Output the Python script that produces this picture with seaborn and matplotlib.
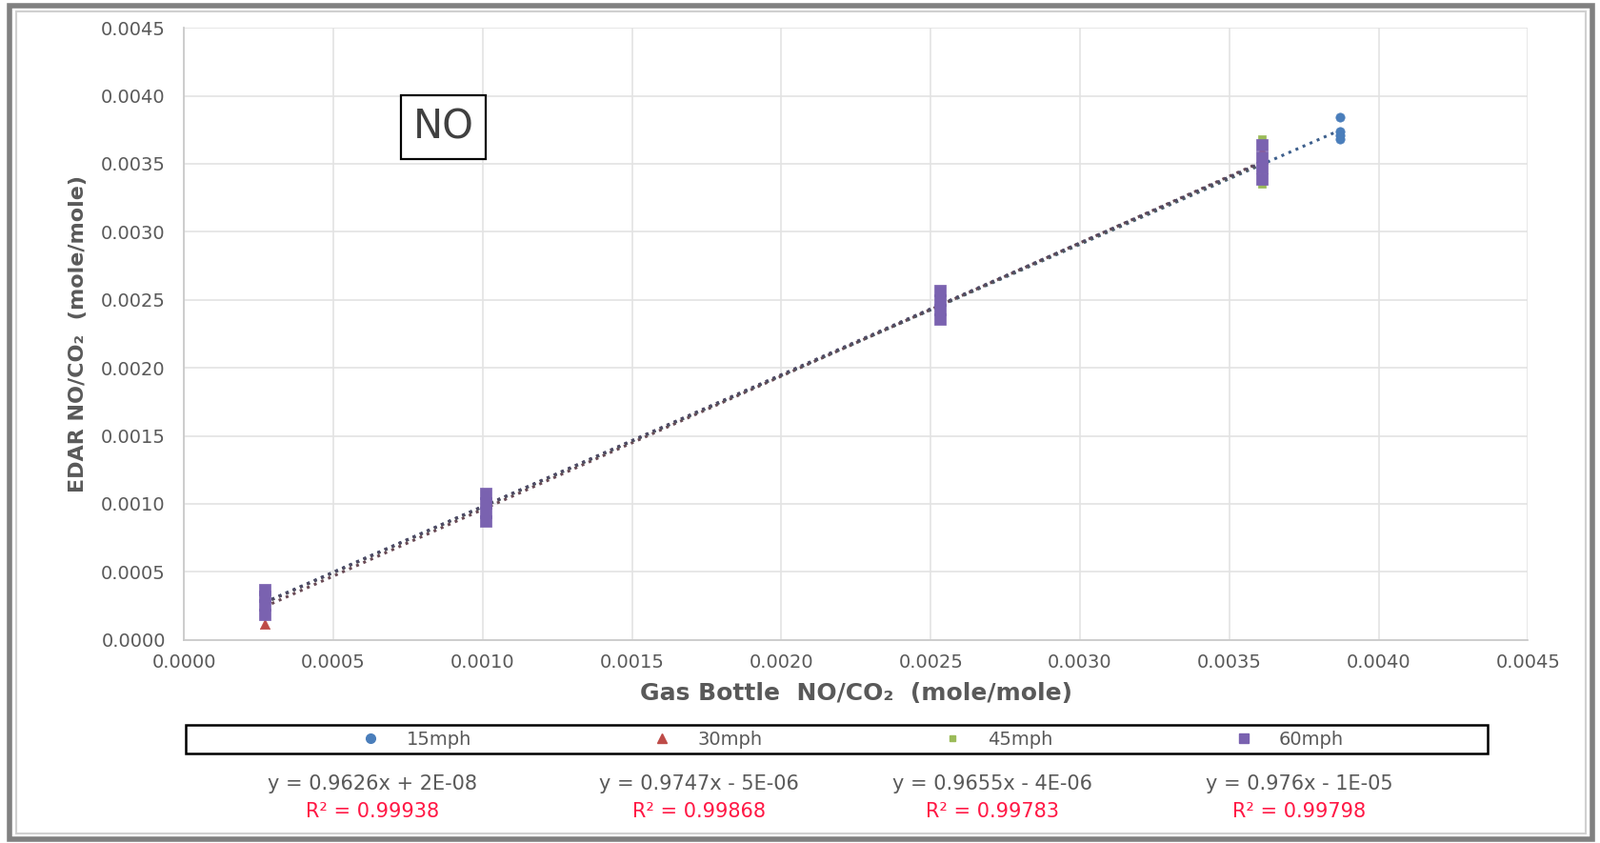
import matplotlib
matplotlib.use("Agg")
import matplotlib.pyplot as plt
import pandas as pd
import seaborn as sns
from matplotlib.patches import Rectangle

# gas bottle values (x) and EDAR readings (y) per speed
x_15 = [0.00027, 0.00027, 0.00101, 0.00101, 0.00253, 0.00253, 0.00361, 0.00361,
        0.00387, 0.00387, 0.00387, 0.00387]
y_15 = [0.00025, 0.00030, 0.00097, 0.00100, 0.00245, 0.00248, 0.00348, 0.00352,
        0.00384, 0.00374, 0.00371, 0.00368]

x_30 = [0.00027, 0.00027, 0.00027, 0.00101, 0.00101, 0.00101,
        0.00253, 0.00253, 0.00253, 0.00361, 0.00361, 0.00361]
y_30 = [0.00012, 0.00024, 0.00031, 0.00094, 0.00099, 0.00103,
        0.00240, 0.00247, 0.00256, 0.00340, 0.00350, 0.00360]

x_45 = [0.00027, 0.00027, 0.00027, 0.00101, 0.00101, 0.00101,
        0.00253, 0.00253, 0.00253, 0.00361, 0.00361, 0.00361]
y_45 = [0.00022, 0.00029, 0.00035, 0.00090, 0.00098, 0.00105,
        0.00238, 0.00244, 0.00250, 0.00335, 0.00352, 0.00368]

x_60 = [0.00027] * 4 + [0.00101] * 4 + [0.00253] * 4 + [0.00361] * 4
y_60 = [0.00019, 0.00026, 0.00032, 0.00037, 0.00087, 0.00094, 0.00101, 0.00108,
        0.00236, 0.00243, 0.00250, 0.00257, 0.00339, 0.00347, 0.00355, 0.00364]

speeds = ["15mph", "30mph", "45mph", "60mph"]
equations = ["y = 0.9626x + 2E-08", "y = 0.9747x - 5E-06",
             "y = 0.9655x - 4E-06", "y = 0.976x - 1E-05"]
r_squared = ["R² = 0.99938", "R² = 0.99868", "R² = 0.99783", "R² = 0.99798"]
tick_vals = [0.0, 0.0005, 0.0010, 0.0015, 0.0020, 0.0025, 0.0030, 0.0035, 0.0040, 0.0045]

# name: x, y, marker colour, trendline colour, marker, size
series = {
    "15mph": (x_15, y_15, "#4a7ebb", "#3d5f8c", "o", 45),
    "30mph": (x_30, y_30, "#be4b48", "#6a4a55", "^", 55),
    "45mph": (x_45, y_45, "#9bbb59", "#5c6450", "s", 30),
    "60mph": (x_60, y_60, "#7a62b0", "#4f4a66", "s", 70),
}

sns.set_theme(style="white")
plt.rcParams["font.family"] = ["DejaVu Sans"]
text_gray = "#595959"

fig = plt.figure(figsize=(16.8, 8.85), dpi=100)
ax = fig.add_axes([0.115, 0.241, 0.840, 0.726])

handles = []
for name in speeds:
    xs, ys, color, line_color, marker, size = series[name]
    df = pd.DataFrame({"x": xs, "y": ys})
    sns.regplot(data=df, x="x", y="y", ax=ax, scatter=False, ci=None, truncate=True,
                color=line_color, line_kws=dict(ls=":", lw=2.2))
for name in speeds:
    xs, ys, color, line_color, marker, size = series[name]
    df = pd.DataFrame({"x": xs, "y": ys})
    sns.scatterplot(data=df, x="x", y="y", ax=ax, color=color, marker=marker,
                    s=size, edgecolor=color, linewidth=0.5, zorder=3)
    handles.append(plt.Line2D([], [], ls="", marker=marker, color=color,
                              markersize=7 if name != "45mph" else 5))

ax.set_xlim(0, 0.0045)
ax.set_ylim(0, 0.0045)
ax.set_xticks(tick_vals)
ax.set_yticks(tick_vals)
ax.set_xticklabels([f"{v:.4f}" for v in tick_vals])
ax.set_yticklabels([f"{v:.4f}" for v in tick_vals])
ax.tick_params(labelsize=14, colors=text_gray, length=0, pad=10)
ax.tick_params(axis="y", pad=14)
ax.grid(True, color="#e3e3e3", lw=1.2)
for side in ["top", "right"]:
    ax.spines[side].set_visible(False)
for side in ["left", "bottom"]:
    ax.spines[side].set_color("#c8c8c8")

ax.set_xlabel("Gas Bottle  NO/CO₂  (mole/mole)", fontsize=18, fontweight="bold",
              color=text_gray, labelpad=8)
ax.set_ylabel("EDAR NO/CO₂  (mole/mole)", fontsize=16, fontweight="bold",
              color=text_gray, labelpad=10)

ax.text(0.193, 0.838, "NO", transform=ax.transAxes, ha="center", va="center",
        fontsize=30, color="#404040",
        bbox=dict(boxstyle="square,pad=0.3", fc="white", ec="black", lw=1.6))

# legend entries, frame drawn separately to match the wide box
leg = fig.legend(handles, speeds, loc="center", ncol=4,
                 bbox_to_anchor=(0.533, 0.123), fontsize=14, frameon=False,
                 handlelength=1.0, handletextpad=1.4, columnspacing=9.8)
for t in leg.get_texts():
    t.set_color(text_gray)
fig.patches.append(Rectangle((0.116, 0.106), 0.814, 0.034, transform=fig.transFigure,
                             fill=False, ec="black", lw=1.8, zorder=5))

eq_x = [0.233, 0.437, 0.620, 0.812]
for i in range(4):
    fig.text(eq_x[i], 0.070, equations[i], ha="center", va="center",
             fontsize=15, color=text_gray)
    fig.text(eq_x[i], 0.037, r_squared[i], ha="center", va="center",
             fontsize=15, color="#ff1744")

fig.patches.append(Rectangle((0.006, 0.005), 0.989, 0.988, transform=fig.transFigure,
                             fill=False, ec="#808080", lw=4, zorder=10))
fig.patches.append(Rectangle((0.010, 0.011), 0.981, 0.976, transform=fig.transFigure,
                             fill=False, ec="#d0d0d0", lw=1.5, zorder=10))

fig.savefig("out.png", dpi=100)
